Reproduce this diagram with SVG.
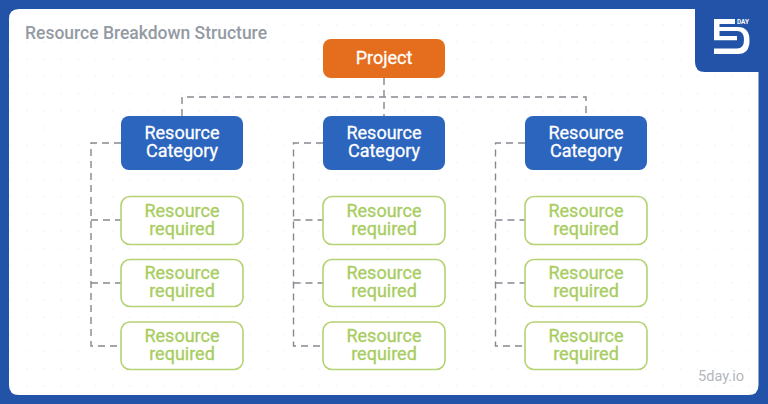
<svg xmlns="http://www.w3.org/2000/svg" width="768" height="404" viewBox="0 0 768 404">
<style>
.t{font-family:Roboto,"Liberation Sans",sans-serif;text-anchor:middle;font-size:18px;font-weight:400;stroke-width:.3px}
.a{font-family:Roboto,"Liberation Sans",sans-serif}
.w{fill:#fff;stroke:#fff}
.g{fill:#a8cd5f;stroke:#a8cd5f}
.req{fill:#fff;stroke:#b5d274;stroke-width:1.6}
.cat{fill:#2b65bd}
.c{fill:none;stroke:#85898e;stroke-width:1.4;stroke-dasharray:7 5}
</style>
<defs>
<pattern id="dots" width="17.2" height="17.2" patternUnits="userSpaceOnUse" x="1" y="-1">
<circle cx="8.6" cy="8.6" r="0.9" fill="#f1f3f5"/>
</pattern>
</defs>
<rect width="768" height="404" fill="#2253a8"/>
<path d="M19 9H695V62Q695 72 705 72H758.500V385Q758.500 395 748.500 395H19Q9 395 9 385V19Q9 9 19 9Z" fill="#fff"/>
<path d="M19 9H695V62Q695 72 705 72H758.500V385Q758.500 395 748.500 395H19Q9 395 9 385V19Q9 9 19 9Z" fill="url(#dots)"/>
<text class="a" x="25" y="39" font-size="17.500" font-weight="500" fill="#939aa3" textLength="242" lengthAdjust="spacingAndGlyphs">Resource Breakdown Structure</text>
<text class="a" x="698" y="381" font-size="15" fill="#b4b8bc" textLength="46" lengthAdjust="spacingAndGlyphs">5day.io</text>
<g id="logo">
<path d="M714 19H735V24H719.500V27H738Q749.500 27 749.500 40.500Q749.500 54 738 54H714V48.500H737Q744 48.500 744 39.700Q744 31 737 31H719.500V36H737V40.300H714Z" fill="#fff"/>
<text class="a" x="737" y="23.500" font-size="7" font-weight="700" fill="#fff" textLength="12" lengthAdjust="spacingAndGlyphs">DAY</text>
</g>
<g id="connectors">
<path class="c" d="M384 78V116M182 116V97H586V116"/>
<path class="c" d="M121 143H91V346H121M91 220H121M91 283H121"/>
<path class="c" d="M323 143H293.500V346H323M293.500 220H323M293.500 283H323"/>
<path class="c" d="M525 143H495.500V346H525M495.500 220H525M495.500 283H525"/>
</g>
<g id="project"><rect x="323" y="39" width="122" height="39" rx="8" fill="#e56d1e"/><text class="t w" x="384" y="64">Project</text></g>
<g id="cat1"><rect class="cat" x="121" y="116" width="122" height="54" rx="8"/><text class="t w" x="182" y="139">Resource</text><text class="t w" x="182" y="157">Category</text></g>
<g id="cat2"><rect class="cat" x="323" y="116" width="122" height="54" rx="8"/><text class="t w" x="384" y="139">Resource</text><text class="t w" x="384" y="157">Category</text></g>
<g id="cat3"><rect class="cat" x="525" y="116" width="122" height="54" rx="8"/><text class="t w" x="586" y="139">Resource</text><text class="t w" x="586" y="157">Category</text></g>
<g id="r11"><rect class="req" x="121" y="196.500" width="122" height="48" rx="9"/><text class="t g" x="182" y="217">Resource</text><text class="t g" x="182" y="235">required</text></g>
<g id="r12"><rect class="req" x="121" y="259.500" width="122" height="47" rx="9"/><text class="t g" x="182" y="279">Resource</text><text class="t g" x="182" y="297">required</text></g>
<g id="r13"><rect class="req" x="121" y="322" width="122" height="47.500" rx="9"/><text class="t g" x="182" y="342">Resource</text><text class="t g" x="182" y="360">required</text></g>
<g id="r21"><rect class="req" x="323" y="196.500" width="122" height="48" rx="9"/><text class="t g" x="384" y="217">Resource</text><text class="t g" x="384" y="235">required</text></g>
<g id="r22"><rect class="req" x="323" y="259.500" width="122" height="47" rx="9"/><text class="t g" x="384" y="279">Resource</text><text class="t g" x="384" y="297">required</text></g>
<g id="r23"><rect class="req" x="323" y="322" width="122" height="47.500" rx="9"/><text class="t g" x="384" y="342">Resource</text><text class="t g" x="384" y="360">required</text></g>
<g id="r31"><rect class="req" x="525" y="196.500" width="122" height="48" rx="9"/><text class="t g" x="586" y="217">Resource</text><text class="t g" x="586" y="235">required</text></g>
<g id="r32"><rect class="req" x="525" y="259.500" width="122" height="47" rx="9"/><text class="t g" x="586" y="279">Resource</text><text class="t g" x="586" y="297">required</text></g>
<g id="r33"><rect class="req" x="525" y="322" width="122" height="47.500" rx="9"/><text class="t g" x="586" y="342">Resource</text><text class="t g" x="586" y="360">required</text></g>
</svg>
